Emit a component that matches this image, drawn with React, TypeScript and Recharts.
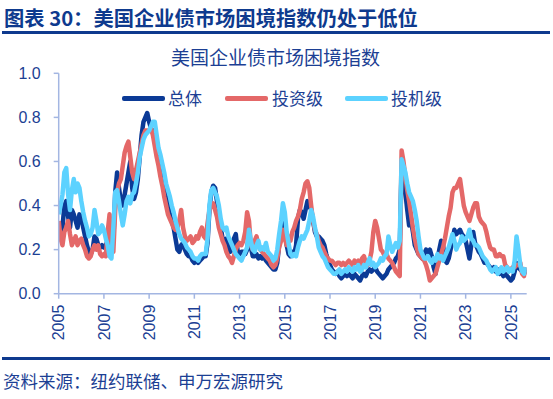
import React from "react";
import { LineChart, Line, XAxis, YAxis } from "recharts";

// Monthly values, Jan 2005 .. Sep 2025
const totalIndex: number[] = [
  0.31,0.28,0.30,0.40,0.42,0.35,0.30,0.38,0.36,0.33,0.30,0.36, // 2005
  0.35,0.30,0.26,0.22,0.19,0.18,0.20,0.26,0.25,0.22,0.21,0.22, // 2006
  0.21,0.22,0.24,0.27,0.20,0.24,0.46,0.55,0.48,0.42,0.40,0.45, // 2007
  0.50,0.55,0.60,0.48,0.43,0.46,0.52,0.62,0.72,0.78,0.80,0.82, // 2008
  0.78,0.75,0.74,0.73,0.68,0.62,0.58,0.53,0.48,0.44,0.40,0.36, // 2009
  0.33,0.30,0.25,0.20,0.19,0.22,0.23,0.20,0.18,0.17,0.17,0.15, // 2010
  0.14,0.15,0.14,0.15,0.16,0.17,0.17,0.23,0.38,0.46,0.49,0.48, // 2011
  0.42,0.36,0.30,0.25,0.24,0.25,0.22,0.19,0.20,0.25,0.27,0.19, // 2012
  0.18,0.19,0.19,0.18,0.20,0.27,0.21,0.17,0.17,0.18,0.16,0.17, // 2013
  0.16,0.17,0.15,0.14,0.13,0.12,0.11,0.11,0.14,0.22,0.28,0.35, // 2014
  0.30,0.22,0.18,0.17,0.19,0.18,0.22,0.34,0.38,0.37,0.34,0.38, // 2015
  0.42,0.40,0.38,0.33,0.28,0.26,0.26,0.25,0.24,0.22,0.18,0.15, // 2016
  0.13,0.11,0.10,0.09,0.10,0.08,0.07,0.08,0.09,0.08,0.09,0.08, // 2017
  0.07,0.09,0.08,0.07,0.06,0.08,0.09,0.08,0.10,0.11,0.10,0.11, // 2018
  0.12,0.10,0.09,0.08,0.07,0.08,0.09,0.11,0.12,0.13,0.14,0.16, // 2019
  0.17,0.20,0.57,0.55,0.46,0.38,0.31,0.33,0.28,0.22,0.20,0.18, // 2020
  0.17,0.16,0.18,0.20,0.19,0.20,0.17,0.12,0.09,0.15,0.20,0.24, // 2021
  0.22,0.15,0.14,0.16,0.20,0.24,0.29,0.27,0.28,0.29,0.27,0.26, // 2022
  0.24,0.20,0.16,0.22,0.28,0.23,0.21,0.19,0.18,0.16,0.14,0.14, // 2023
  0.13,0.12,0.11,0.12,0.10,0.11,0.09,0.10,0.08,0.09,0.08,0.07, // 2024
  0.06,0.07,0.10,0.14,0.12,0.11,0.10,0.09,0.11, // 2025
];

const investmentGrade: number[] = [
  0.33,0.25,0.22,0.28,0.30,0.33,0.27,0.22,0.24,0.26,0.22,0.24, // 2005
  0.25,0.22,0.20,0.17,0.16,0.17,0.20,0.22,0.20,0.22,0.18,0.17, // 2006
  0.18,0.17,0.28,0.36,0.22,0.19,0.38,0.46,0.50,0.52,0.58,0.64, // 2007
  0.67,0.69,0.62,0.55,0.52,0.56,0.60,0.64,0.68,0.72,0.74,0.74, // 2008
  0.74,0.75,0.72,0.67,0.62,0.58,0.53,0.49,0.44,0.40,0.36,0.34, // 2009
  0.32,0.30,0.29,0.30,0.33,0.38,0.30,0.26,0.24,0.25,0.26,0.23, // 2010
  0.24,0.26,0.25,0.28,0.30,0.26,0.25,0.32,0.38,0.40,0.41,0.38, // 2011
  0.35,0.30,0.27,0.24,0.22,0.19,0.17,0.16,0.14,0.17,0.20,0.22, // 2012
  0.23,0.22,0.24,0.28,0.37,0.33,0.22,0.20,0.24,0.26,0.22,0.20, // 2013
  0.19,0.18,0.17,0.16,0.15,0.13,0.12,0.13,0.16,0.21,0.24,0.29, // 2014
  0.25,0.22,0.26,0.24,0.28,0.30,0.33,0.35,0.38,0.43,0.46,0.50, // 2015
  0.51,0.48,0.40,0.33,0.29,0.27,0.24,0.22,0.21,0.19,0.17,0.16, // 2016
  0.15,0.15,0.14,0.13,0.14,0.14,0.13,0.14,0.13,0.14,0.15,0.14, // 2017
  0.13,0.15,0.14,0.15,0.13,0.16,0.17,0.14,0.13,0.15,0.19,0.28, // 2018
  0.33,0.30,0.25,0.20,0.19,0.17,0.18,0.16,0.15,0.14,0.12,0.10, // 2019
  0.09,0.08,0.65,0.60,0.53,0.47,0.42,0.36,0.30,0.25,0.21,0.18, // 2020
  0.17,0.16,0.15,0.13,0.10,0.06,0.07,0.08,0.09,0.12,0.15,0.18, // 2021
  0.21,0.25,0.30,0.35,0.39,0.46,0.48,0.48,0.50,0.52,0.46,0.40, // 2022
  0.37,0.35,0.33,0.36,0.39,0.41,0.41,0.35,0.33,0.32,0.31,0.28, // 2023
  0.24,0.21,0.20,0.20,0.17,0.17,0.18,0.17,0.17,0.13,0.12,0.11, // 2024
  0.11,0.12,0.12,0.13,0.13,0.14,0.09,0.08,0.12, // 2025
];

const highYield: number[] = [
  0.36,0.40,0.45,0.55,0.57,0.45,0.38,0.47,0.52,0.46,0.50,0.48, // 2005
  0.42,0.37,0.33,0.30,0.26,0.27,0.30,0.38,0.33,0.27,0.28,0.31, // 2006
  0.29,0.25,0.22,0.17,0.16,0.30,0.46,0.47,0.42,0.36,0.31,0.36, // 2007
  0.42,0.44,0.41,0.45,0.46,0.50,0.55,0.62,0.66,0.70,0.72,0.73, // 2008
  0.74,0.76,0.78,0.78,0.72,0.66,0.63,0.59,0.55,0.50,0.47,0.44, // 2009
  0.40,0.37,0.33,0.30,0.27,0.25,0.24,0.23,0.21,0.20,0.19,0.17, // 2010
  0.16,0.16,0.15,0.17,0.18,0.18,0.18,0.25,0.40,0.47,0.48,0.46, // 2011
  0.44,0.40,0.34,0.30,0.29,0.30,0.26,0.24,0.22,0.20,0.18,0.17, // 2012
  0.16,0.15,0.17,0.19,0.21,0.29,0.24,0.20,0.19,0.22,0.24,0.20, // 2013
  0.21,0.20,0.23,0.19,0.18,0.17,0.15,0.16,0.20,0.27,0.33,0.41, // 2014
  0.37,0.28,0.23,0.18,0.17,0.18,0.17,0.21,0.24,0.26,0.25,0.27, // 2015
  0.29,0.33,0.38,0.35,0.30,0.26,0.21,0.19,0.17,0.16,0.14,0.12, // 2016
  0.11,0.10,0.09,0.09,0.10,0.11,0.09,0.10,0.11,0.10,0.12,0.11, // 2017
  0.10,0.12,0.11,0.13,0.10,0.11,0.13,0.12,0.14,0.16,0.13,0.14, // 2018
  0.12,0.13,0.14,0.16,0.15,0.17,0.18,0.26,0.22,0.19,0.21,0.23, // 2019
  0.21,0.24,0.61,0.58,0.55,0.50,0.46,0.44,0.42,0.38,0.33,0.26, // 2020
  0.20,0.18,0.16,0.16,0.17,0.15,0.14,0.16,0.15,0.18,0.16,0.17, // 2021
  0.15,0.17,0.19,0.21,0.24,0.27,0.24,0.20,0.22,0.23,0.26,0.24, // 2022
  0.25,0.26,0.29,0.25,0.24,0.22,0.22,0.21,0.19,0.17,0.16,0.15, // 2023
  0.13,0.11,0.10,0.11,0.12,0.09,0.10,0.12,0.10,0.11,0.12,0.10, // 2024
  0.11,0.10,0.15,0.26,0.20,0.13,0.10,0.09,0.12, // 2025
];

const startYear = 2005;
const xTicks = [2005, 2007, 2009, 2011, 2013, 2015, 2017, 2019, 2021, 2023, 2025];
const yTicks = [0, 0.2, 0.4, 0.6, 0.8, 1.0];

const seriesNames = ["总体", "投资级", "投机级"];
const seriesColors = ["#0B3A96", "#E46868", "#5CD2FF"];

const data = totalIndex.map((v, i) => ({
  t: startYear + i / 12,
  total: v,
  ig: investmentGrade[i],
  hy: highYield[i],
}));

const BLUE = "#0E3A8E";
const TEXT = "#1C3F94";
const AXIS = "#A3B6E2";
const CJK = '"Noto Sans CJK SC", "Noto Sans", sans-serif';
const NUM = '"Liberation Sans", Arial, sans-serif';

const XTick = (props: any) => {
  const { x, y, payload } = props;
  return (
    <text
      x={x}
      y={y}
      transform={`rotate(-90 ${x} ${y})`}
      textAnchor="end"
      dy="0.36em"
      fill={TEXT}
      fontSize={16}
      fontFamily={NUM}
    >
      {payload.value}
    </text>
  );
};

export default function App() {
  return (
    <div
      style={{
        position: "absolute",
        left: 0,
        top: 0,
        width: 553,
        height: 399,
        background: "#fff",
        overflow: "hidden",
      }}
    >
      <div
        style={{
          position: "absolute",
          left: 4,
          top: 3,
          fontFamily: CJK,
          fontWeight: 700,
          fontSize: 20.3,
          color: BLUE,
          whiteSpace: "nowrap",
          lineHeight: "28px",
        }}
      >
        图表 30：美国企业债市场困境指数仍处于低位
      </div>
      <div style={{ position: "absolute", left: 2, top: 31, width: 548, height: 2.5, background: BLUE }} />

      <div
        style={{
          position: "absolute",
          left: 0,
          width: 553,
          top: 44,
          textAlign: "center",
          fontFamily: CJK,
          fontSize: 19,
          color: TEXT,
          lineHeight: "26px",
          whiteSpace: "nowrap",
        }}
      >
        <span style={{ position: "relative", left: -1 }}>美国企业债市场困境指数</span>
      </div>

      {/* legend */}
      {[
        { lx: 122, tx: 168 },
        { lx: 225, tx: 272 },
        { lx: 345, tx: 391 },
      ].map((p, i) => (
        <React.Fragment key={i}>
          <div
            style={{
              position: "absolute",
              left: p.lx,
              top: 96,
              width: 43,
              height: 4.5,
              borderRadius: 2,
              background: seriesColors[i],
            }}
          />
          <div
            style={{
              position: "absolute",
              left: p.tx,
              top: 86,
              fontFamily: CJK,
              fontSize: 17,
              color: TEXT,
              lineHeight: "24px",
              whiteSpace: "nowrap",
            }}
          >
            {seriesNames[i]}
          </div>
        </React.Fragment>
      ))}

      <div style={{ position: "absolute", left: 0, top: 0 }}>
        <LineChart
          width={553}
          height={399}
          data={data}
          margin={{ top: 73.3, right: 26.3, bottom: 45.3, left: 0 }}
        >
          <XAxis
            dataKey="t"
            type="number"
            domain={[2005, 2025.7]}
            ticks={xTicks}
            allowDataOverflow
            height={60}
            stroke={AXIS}
            strokeWidth={1.5}
            tickSize={5}
            tickMargin={6}
            tickLine={{ stroke: AXIS, strokeWidth: 1.5 }}
            tick={<XTick />}
            interval={0}
          />
          <YAxis
            type="number"
            domain={[0, 1]}
            ticks={yTicks}
            width={58.7}
            stroke={AXIS}
            strokeWidth={1.5}
            tickSize={5}
            tickMargin={13}
            tickLine={{ stroke: AXIS, strokeWidth: 1.5 }}
            tickFormatter={(v: number) => v.toFixed(1)}
            tick={{ fill: TEXT, fontSize: 16, fontFamily: NUM }}
            interval={0}
          />
          <Line
            dataKey="total"
            stroke={seriesColors[0]}
            strokeWidth={4.5}
            dot={false}
            isAnimationActive={false}
            strokeLinejoin="round"
          />
          <Line
            dataKey="ig"
            stroke={seriesColors[1]}
            strokeWidth={4.5}
            dot={false}
            isAnimationActive={false}
            strokeLinejoin="round"
          />
          <Line
            dataKey="hy"
            stroke={seriesColors[2]}
            strokeWidth={4.5}
            dot={false}
            isAnimationActive={false}
            strokeLinejoin="round"
          />
        </LineChart>
      </div>

      <div style={{ position: "absolute", left: 2, top: 357, width: 548, height: 2.5, background: BLUE }} />
      <div
        style={{
          position: "absolute",
          left: 3,
          top: 369,
          fontFamily: CJK,
          fontSize: 17.5,
          color: TEXT,
          lineHeight: "24px",
          whiteSpace: "nowrap",
        }}
      >
        资料来源：纽约联储、申万宏源研究
      </div>
    </div>
  );
}
